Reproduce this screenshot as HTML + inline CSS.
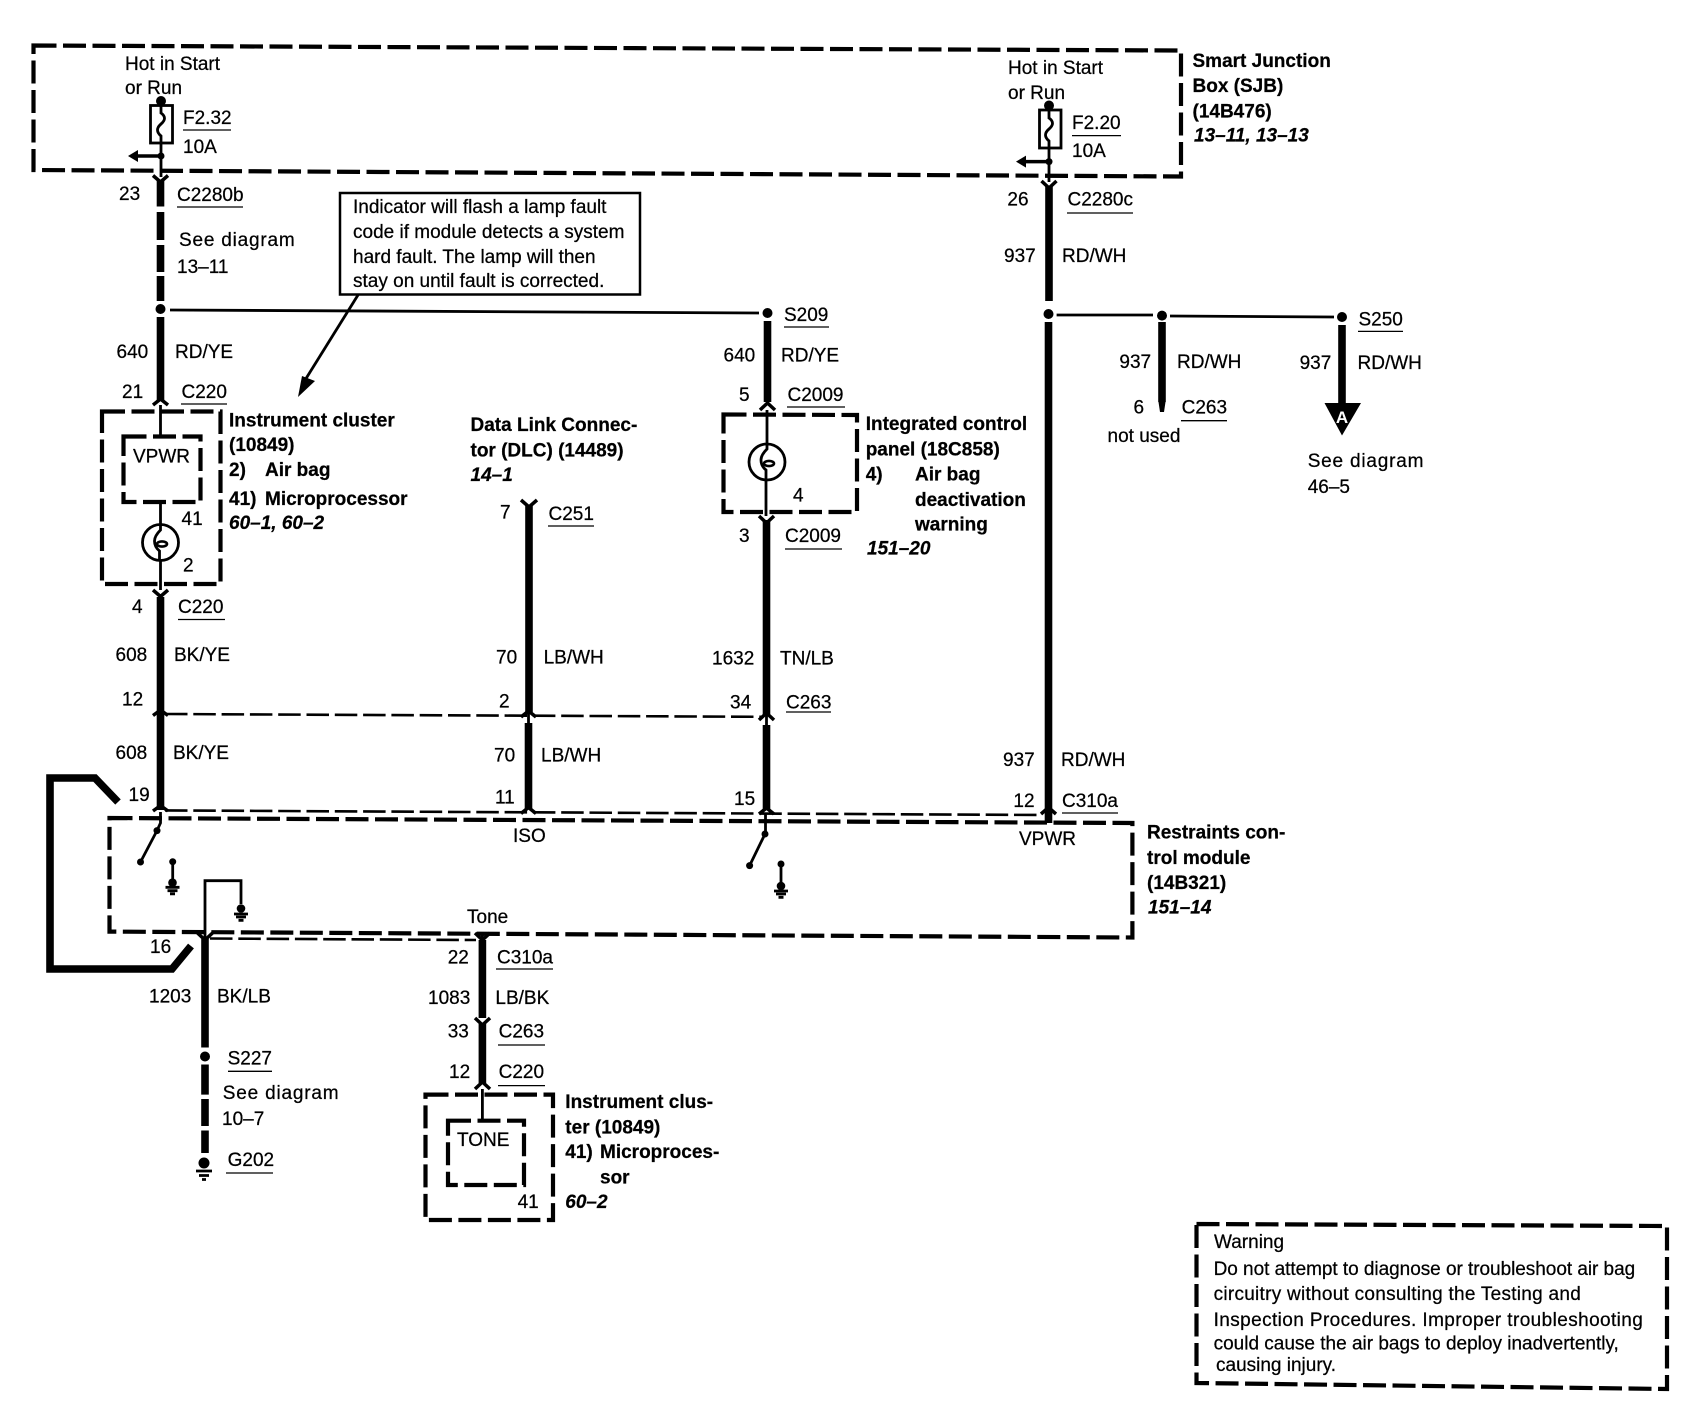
<!DOCTYPE html>
<html><head><meta charset="utf-8"><style>
html,body{margin:0;padding:0;background:#fff}
svg{display:block}
text{font-family:"Liberation Sans",sans-serif;font-size:19px;fill:#000;stroke:#000;stroke-width:.25}
.b{font-weight:bold}.i{font-weight:bold;font-style:italic}
.box{fill:none;stroke:#000;stroke-width:4.2;stroke-dasharray:23 6.5}
.d{fill:none;stroke:#000;stroke-width:2.6;stroke-dasharray:22.500 5.800}
.w{fill:none;stroke:#000;stroke-width:7.600}
.t{fill:none;stroke:#000;stroke-width:2.800}
.u{fill:none;stroke:#000;stroke-width:1.300}
.c{fill:none;stroke:#000;stroke-width:3.500}
.sp{letter-spacing:.8px}
</style></head><body>
<svg width="1698" height="1408" viewBox="0 0 1698 1408" xmlns="http://www.w3.org/2000/svg">
<rect width="1698" height="1408" fill="#fff"/>

<!-- dashed module boxes -->
<path class="box" d="M33.500 45.500L1181 50.500V176.500L33.500 170Z"/>
<path class="box" d="M102 411.500H220.500V584H102Z"/>
<path class="box" d="M123.500 436.500H200.500V502H123.500Z"/>
<path class="box" d="M723.500 414.500L857 415V512H723.500Z"/>
<path class="box" d="M109.500 818L1132.400 823V937.500L109.500 931.600Z"/>
<path class="box" d="M425.500 1094.600H553V1220H425.500Z"/>
<path class="box" d="M448 1120.700H524V1185H448Z"/>
<path class="box" d="M1196.500 1224L1667 1226V1389L1196.500 1383Z"/>

<!-- thin dashed bus lines -->
<path class="d" d="M165 714L762 716.800"/>
<path class="d" d="M165 810.400L1039 815"/>
<path class="d" d="M210 938.500L476 940"/>

<!-- left wire -->
<circle cx="161" cy="101" r="5"/>
<rect x="150.500" y="105.500" width="22" height="37.500" fill="#fff" stroke="#000" stroke-width="2.800"/>
<path class="t" d="M161 101V113Q168 118 161 124Q154 130 161 136V177"/>
<circle cx="161" cy="156" r="3.500"/>
<path class="c" d="M135 156H161"/><path d="M128 156L138 150V162Z"/>
<path class="c" d="M153 175.500L160.500 182L168 175.500"/>
<path class="w" stroke-width="8" d="M160.500 180V206.500M160.500 212V240M160.500 245V272M160.500 276V301M160.500 317V400M160.500 597V810"/>
<circle cx="160.500" cy="309" r="5"/>
<path class="c" d="M153 405L160.500 399L168 405"/>
<path class="t" d="M160.500 405V436M160.500 502V524M160.500 561V590"/>
<circle cx="160.500" cy="542.500" r="18" fill="none" stroke="#000" stroke-width="2.800"/>
<path class="t" d="M160.500 524V530Q154.500 536 154.500 541Q154.500 547 159.500 551V561"/><ellipse cx="162" cy="544" rx="5" ry="2.600" fill="none" stroke="#000" stroke-width="2.600"/>
<path class="c" d="M153 590L160.500 596.500L168 590"/>
<path class="c" d="M153 715.500L160.500 710L168 715.500"/>
<path class="c" d="M153 811L160.500 805.500L168 811"/>
<path class="t" d="M160.500 812V823L157 830.600"/>
<path class="t" d="M157 830.600L140.500 862"/><circle cx="157" cy="830.600" r="3.500"/><circle cx="140.500" cy="862" r="3.500"/>
<circle cx="172.700" cy="861.700" r="3.500"/><path class="t" d="M172.700 861.700V883"/>
<circle cx="172.500" cy="882.700" r="4.300"/><path class="t" stroke-width="2" d="M165.500 887.300H179.500M167.500 890.700H177.500M170 893.800H175"/>

<!-- thick L marker -->
<path class="w" stroke-width="8" d="M118 802L95 778H50V969H172L191 946" stroke-miterlimit="10"/>

<!-- second ground in module and lower wire -->
<path class="t" d="M205 938V880.700H241V904"/>
<circle cx="241" cy="908.500" r="4.300"/><path class="t" stroke-width="2" d="M234 914H248M236 917H246M238.500 920.300H243.500"/>
<path class="c" d="M197.500 933L205 940L212.500 933"/>
<path class="w" d="M205 939V1047.500M205 1064.500V1094.600M205 1099V1126M205 1130.500V1153"/>
<circle cx="205" cy="1056.500" r="5"/>
<circle cx="204" cy="1163" r="5.500"/>
<path class="t" d="M196 1171H212M199 1175.500H209M202 1179.500H206"/>

<!-- tone wire -->
<path class="t" d="M482.400 932V942"/>
<path class="c" d="M475 933L482.400 940L490 933"/>
<path class="w" d="M482.400 940V1018M482.400 1024V1083"/>
<path class="c" d="M475 1018L482.400 1025L490 1018"/>
<path class="c" d="M475 1089L482.400 1082L490 1089"/>
<path class="t" d="M482.400 1089V1122"/>

<!-- DLC wire -->
<path class="c" d="M521 500L529 507L537 500"/>
<path class="w" stroke-width="8" d="M529 505V712M528.500 723V809"/>
<path class="t" stroke-width="4" d="M528.500 712V723"/>
<path class="c" d="M521 717L528.500 711L536 717"/>
<path class="c" d="M521 813.500L528.500 807.500L536 813.500"/>

<!-- S209 feed / ICP wire -->
<path class="t" stroke-width="3" d="M170 310L759 313"/>
<circle cx="767.500" cy="313" r="5"/>
<path class="w" d="M767.500 321V402M766.500 520V714M766.500 725V809"/>
<path class="c" d="M760 410L767.500 403L775 410"/>
<path class="t" d="M767 410V449Q761 455 761 460Q761 466 766 470V516"/>
<circle cx="767" cy="462" r="18" fill="none" stroke="#000" stroke-width="2.800"/>
<ellipse cx="769" cy="463.500" rx="5" ry="2.600" fill="none" stroke="#000" stroke-width="2.600"/>
<path class="c" d="M759 516L766.500 523L774 516"/>
<path class="t" stroke-width="4" d="M766.500 714V725"/>
<path class="c" d="M759 720L766.500 713L774 720"/>
<path class="c" d="M759 814L766.500 808L774 814"/>
<path class="t" d="M765.500 814V834"/>
<path class="t" d="M765 834L749.600 865.600"/><circle cx="765" cy="834" r="3.500"/><circle cx="749.600" cy="865.600" r="3.500"/>
<circle cx="781" cy="864" r="3.500"/><path class="t" d="M781 864V886"/>
<circle cx="781" cy="886" r="4.300"/><path class="t" stroke-width="2" d="M774 891H788M776 894H786M778.500 897.300H783.500"/>

<!-- right wire -->
<circle cx="1049" cy="105.500" r="5"/>
<rect x="1039.500" y="110" width="21.500" height="38" fill="#fff" stroke="#000" stroke-width="2.800"/>
<path class="t" d="M1049 105.500V118Q1056 123 1049 129Q1042 135 1049 141V182"/>
<circle cx="1049" cy="161.600" r="3.500"/>
<path class="c" d="M1022 161.600H1049"/><path d="M1016 161.600L1026 155.600V167.600Z"/>
<path class="c" d="M1041.500 181L1049 188L1056.500 181"/>
<path class="w" stroke-width="8" d="M1049 186V301M1048.500 322V823"/>
<circle cx="1048.500" cy="314" r="5"/>
<path class="c" d="M1041 814L1048.500 807.500L1056 814"/>
<path class="t" stroke-width="3" d="M1056.600 315H1153"/>
<circle cx="1162" cy="315.600" r="5"/>
<path class="t" stroke-width="3" d="M1170 316L1334 317"/>
<circle cx="1342" cy="317" r="5"/>
<path class="w" d="M1162 322V402"/><path d="M1158.500 402H1165.500L1164 412H1160Z"/>
<path class="w" stroke-width="8" d="M1342 325V404"/>
<path d="M1324.500 403H1361L1342 435.500Z"/>
<text x="1342" y="423" text-anchor="middle" class="b" style="fill:#fff;stroke:none;font-size:17px">A</text>

<!-- callout -->
<rect x="340" y="193" width="300" height="101.500" fill="#fff" stroke="#000" stroke-width="2.500"/>
<path class="t" d="M358 295L302 385"/>
<path d="M298 397L315 381L302 376Z"/>
<text x="353" y="213">Indicator will flash a lamp fault</text>
<text x="353" y="238">code if module detects a system</text>
<text x="353" y="263">hard fault. The lamp will then</text>
<text x="353" y="287">stay on until fault is corrected.</text>

<!-- underlines -->
<path class="u" d="M183 130H231M177 207H243M181 404H227M784 327H829M787 407H845M548 526H594M785 549H842M178 619.500H225M786 712H831M1072 135.600H1121M1067 213H1133M1358 331.400H1403M1181 420.700H1227M1062 813H1118M228 1071.300H272M226 1173H273M496 969H553M498 1045H545M498 1085.600H545"/>

<!-- labels top left -->
<text x="125" y="70">Hot in Start</text>
<text x="125" y="94">or Run</text>
<text x="183" y="124">F2.32</text>
<text x="183" y="153">10A</text>
<text x="119" y="200">23</text>
<text x="177" y="201">C2280b</text>
<text class="sp" x="179" y="246">See diagram</text>
<text x="177" y="273">13–11</text>
<text x="116.500" y="358">640</text>
<text x="175" y="358">RD/YE</text>
<text x="122" y="398">21</text>
<text x="181.500" y="398">C220</text>
<text x="133" y="462.500">VPWR</text>
<text x="181.500" y="525">41</text>
<text x="183" y="571.500">2</text>
<text x="132" y="613">4</text>
<text x="178" y="613">C220</text>
<text x="115.500" y="661">608</text>
<text x="174" y="661">BK/YE</text>
<text x="122" y="705.500">12</text>
<text x="115.500" y="759">608</text>
<text x="173" y="759">BK/YE</text>
<text x="128.500" y="801">19</text>

<text class="b" x="229" y="426.500">Instrument cluster</text>
<text class="b" x="229" y="451">(10849)</text>
<text class="b" x="229" y="476">2)</text>
<text class="b" x="265" y="476">Air bag</text>
<text class="b" x="229" y="505">41)</text>
<text class="b" x="265" y="505">Microprocessor</text>
<text class="i" x="229" y="529">60–1, 60–2</text>

<!-- DLC labels -->
<text class="b" x="470.500" y="431">Data Link Connec-</text>
<text class="b" x="470.500" y="456.600">tor (DLC) (14489)</text>
<text class="i" x="470.500" y="481">14–1</text>
<text x="500" y="518.600">7</text>
<text x="548.500" y="520">C251</text>
<text x="496" y="663.600">70</text>
<text x="543.600" y="663.600">LB/WH</text>
<text x="499" y="707.500">2</text>
<text x="494" y="761.500">70</text>
<text x="541" y="761.500">LB/WH</text>
<text x="495" y="803.700">11</text>
<text x="513" y="842">ISO</text>

<!-- ICP labels -->
<text x="784" y="321">S209</text>
<text x="723.500" y="361.500">640</text>
<text x="781" y="361.500">RD/YE</text>
<text x="739" y="401">5</text>
<text x="787.500" y="401">C2009</text>
<text x="793" y="501.500">4</text>
<text x="739" y="542">3</text>
<text x="785" y="542">C2009</text>
<text x="712" y="664.500">1632</text>
<text x="780" y="664.500">TN/LB</text>
<text x="730" y="708.500">34</text>
<text x="786" y="708.500">C263</text>
<text x="734" y="805">15</text>
<text class="b" x="865.700" y="430">Integrated control</text>
<text class="b" x="865.700" y="455.700">panel (18C858)</text>
<text class="b" x="865.700" y="480.400">4)</text>
<text class="b" x="915" y="480.400">Air bag</text>
<text class="b" x="915" y="506">deactivation</text>
<text class="b" x="915" y="530.700">warning</text>
<text class="i" x="867" y="554.500">151–20</text>

<!-- right top labels -->
<text x="1008" y="74">Hot in Start</text>
<text x="1008" y="99">or Run</text>
<text x="1072" y="129">F2.20</text>
<text x="1072" y="157">10A</text>
<text x="1007.400" y="205.600">26</text>
<text x="1067.500" y="205.600">C2280c</text>
<text x="1004" y="262">937</text>
<text x="1062" y="262">RD/WH</text>
<text class="b" x="1192.500" y="67">Smart Junction</text>
<text class="b" x="1192.500" y="92">Box (SJB)</text>
<text class="b" x="1192.500" y="117.600">(14B476)</text>
<text class="i" x="1194" y="141.500">13–11, 13–13</text>
<text x="1358.500" y="325.500">S250</text>
<text x="1119.400" y="368">937</text>
<text x="1177" y="368">RD/WH</text>
<text x="1133.500" y="413.500">6</text>
<text x="1181.600" y="413.500">C263</text>
<text x="1107.500" y="442">not used</text>
<text x="1299.600" y="369">937</text>
<text x="1357.500" y="369">RD/WH</text>
<text class="sp" x="1307.700" y="467">See diagram</text>
<text x="1307.700" y="493">46–5</text>

<!-- restraint labels -->
<text x="1003" y="766">937</text>
<text x="1061" y="766">RD/WH</text>
<text x="1013.400" y="807">12</text>
<text x="1062" y="807">C310a</text>
<text x="1019" y="845">VPWR</text>
<text class="b" x="1147" y="838.700">Restraints con-</text>
<text class="b" x="1147" y="864">trol module</text>
<text class="b" x="1147" y="889">(14B321)</text>
<text class="i" x="1148" y="913.700">151–14</text>
<text x="467" y="923">Tone</text>

<!-- bottom labels -->
<text x="150" y="953">16</text>
<text x="149" y="1002.600">1203</text>
<text x="217" y="1002.600">BK/LB</text>
<text x="227.600" y="1064.500">S227</text>
<text class="sp" x="222.800" y="1099">See diagram</text>
<text x="222" y="1125">10–7</text>
<text x="227.600" y="1166">G202</text>
<text x="447.700" y="963.500">22</text>
<text x="497" y="963.500">C310a</text>
<text x="428" y="1004">1083</text>
<text x="495.400" y="1004">LB/BK</text>
<text x="447.700" y="1037.600">33</text>
<text x="498.600" y="1037.600">C263</text>
<text x="449" y="1078">12</text>
<text x="498.600" y="1078">C220</text>
<text x="457" y="1146">TONE</text>
<text x="517.600" y="1208">41</text>
<text class="b" x="565.300" y="1108">Instrument clus-</text>
<text class="b" x="565.300" y="1133.700">ter (10849)</text>
<text class="b" x="565.300" y="1158">41)</text>
<text class="b" x="600" y="1158">Microproces-</text>
<text class="b" x="600" y="1183.500">sor</text>
<text class="i" x="565.300" y="1208">60–2</text>

<!-- warning -->
<text x="1214" y="1248">Warning</text>
<text x="1213.600" y="1275" style="letter-spacing:-.04px">Do not attempt to diagnose or troubleshoot air bag</text>
<text x="1213.600" y="1300" style="letter-spacing:.27px">circuitry without consulting the Testing and</text>
<text x="1213.600" y="1326" style="letter-spacing:.4px">Inspection Procedures. Improper troubleshooting</text>
<text x="1213.600" y="1349.700">could cause the air bags to deploy inadvertently,</text>
<text x="1216" y="1371">causing injury.</text>
</svg>
</body></html>
